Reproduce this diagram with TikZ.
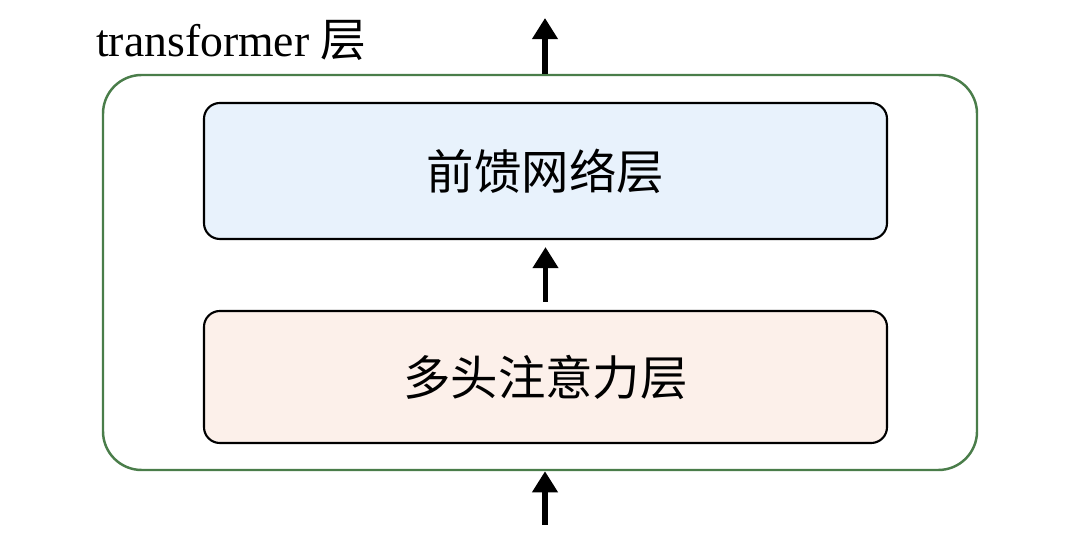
\documentclass[tikz,border=0pt]{standalone}
\usepackage{fontspec}
\setmainfont{Liberation Serif}
\newfontfamily\cjk{Noto Sans CJK SC}
\usetikzlibrary{arrows.meta,positioning}
\definecolor{ffnblue}{HTML}{E8F2FC}
\definecolor{attnpeach}{HTML}{FCF0EA}
\definecolor{layergreen}{HTML}{4A7D4A}
\tikzset{
  block/.style={draw=black,line width=1.2pt,rounded corners=9pt,minimum width=13.66cm,font=\cjk\fontsize{27}{30}\selectfont},
  flow/.style={line width=3.2pt,-{Triangle[length=12pt,width=14pt]}}
}
\begin{document}
\begin{tikzpicture}
\useasboundingbox (0,0) rectangle (21.6,10.86);
\node[block,fill=attnpeach,minimum height=2.64cm] (attn) at (10.91,3.32) {多头注意力层};
\node[block,fill=ffnblue,minimum height=2.72cm] (ffn) at (10.91,7.44) {前馈网络层};
\node[draw=layergreen,line width=1.4pt,rounded corners=22pt,minimum width=17.48cm,minimum height=7.9cm] (layer) at (10.8,5.41) {};
\node[anchor=west,font=\fontsize{26}{30}\selectfont] (title) at (1.8,10.05) {transformer {\cjk 层}};
\coordinate (out) at (10.9,10.5);
\coordinate (in) at (10.9,0.36);
\draw[flow] (attn.north) ++(0,0.16) coordinate (m1) -- ([yshift=-0.14cm]ffn.south);
\draw[flow] (layer.north -| out) -- (out);
\draw[flow] (in) -- (layer.south -| in);
\end{tikzpicture}
\end{document}
